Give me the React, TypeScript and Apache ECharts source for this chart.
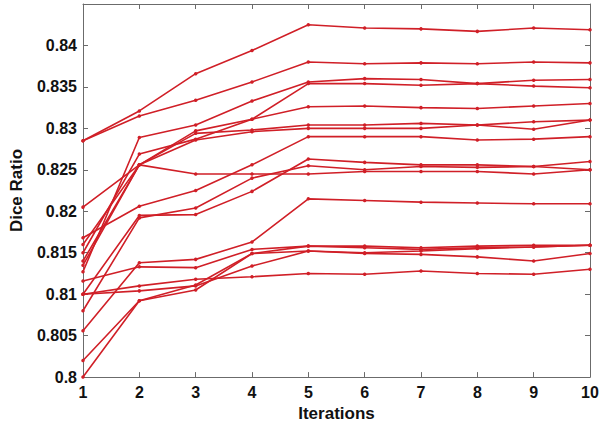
import React, { useEffect, useRef } from "react";
import * as echarts from "echarts";

const iterations = [1, 2, 3, 4, 5, 6, 7, 8, 9, 10];

const runA = [0.8285, 0.8321, 0.8366, 0.8394, 0.8425, 0.8421, 0.842, 0.8417, 0.8421, 0.8419];
const runB = [0.8285, 0.8315, 0.8334, 0.8356, 0.838, 0.8378, 0.8379, 0.8378, 0.838, 0.8379];
const runC = [0.8127, 0.8289, 0.8304, 0.8333, 0.8356, 0.836, 0.8359, 0.8354, 0.8358, 0.8359];
const runD = [0.815, 0.8269, 0.8287, 0.8311, 0.8354, 0.8354, 0.8352, 0.8354, 0.8351, 0.8349];
const runE = [0.814, 0.8256, 0.8297, 0.8311, 0.8326, 0.8327, 0.8325, 0.8324, 0.8327, 0.833];
const runF = [0.816, 0.8256, 0.8294, 0.8298, 0.8304, 0.8304, 0.8306, 0.8304, 0.8299, 0.831];
const runG = [0.8135, 0.8256, 0.8286, 0.8296, 0.83, 0.83, 0.83, 0.8304, 0.8308, 0.831];
const runH = [0.8168, 0.8206, 0.8225, 0.8256, 0.829, 0.829, 0.829, 0.8286, 0.8287, 0.829];
const runI = [0.8205, 0.8256, 0.8245, 0.8245, 0.8245, 0.8248, 0.8248, 0.8248, 0.8245, 0.825];
const runJ = [0.81, 0.8195, 0.8196, 0.8224, 0.8263, 0.8259, 0.8256, 0.8256, 0.8254, 0.826];
const runK = [0.808, 0.8192, 0.8204, 0.824, 0.8255, 0.825, 0.8254, 0.8253, 0.8254, 0.825];
const runL = [0.8056, 0.8138, 0.8142, 0.8163, 0.8215, 0.8213, 0.8211, 0.821, 0.8209, 0.8209];
const runM = [0.8116, 0.8133, 0.8132, 0.8154, 0.8158, 0.8158, 0.8156, 0.8158, 0.8159, 0.8159];
const runN = [0.81, 0.811, 0.8118, 0.8121, 0.8125, 0.8124, 0.8128, 0.8125, 0.8124, 0.813];
const runO = [0.81, 0.8104, 0.811, 0.8134, 0.8152, 0.8149, 0.8148, 0.8145, 0.814, 0.8149];
const runP = [0.802, 0.8092, 0.8105, 0.8149, 0.8158, 0.8156, 0.8154, 0.8156, 0.8157, 0.8159];
const runQ = [0.8, 0.8092, 0.8111, 0.8149, 0.8152, 0.815, 0.8152, 0.8155, 0.8157, 0.8159];

const runs = [runA, runB, runC, runD, runE, runF, runG, runH, runI, runJ, runK, runL, runM, runN, runO, runP, runQ];

const RED = "#d01f27";
const AXIS = "#6b6b6b";
const FONT = "Liberation Sans";

export default function App() {
  const ref = useRef<HTMLDivElement>(null);
  useEffect(() => {
    if (!ref.current) return;
    const chart = echarts.init(ref.current, undefined, { renderer: "svg" });
    const fmtY = (v: number) => (v > 0.8445 ? "" : String(parseFloat(v.toFixed(3))));
    const axisLine = { show: true, lineStyle: { color: AXIS, width: 1 } };
    const tick = { show: true, inside: true, length: 5, lineStyle: { color: AXIS } };
    chart.setOption({
      animation: false,
      backgroundColor: "#ffffff",
      grid: { left: 79, right: 12, top: 4, bottom: 48, containLabel: false },
      xAxis: [
        {
          type: "value",
          min: 1,
          max: 10,
          interval: 1,
          name: "Iterations",
          nameLocation: "middle",
          nameGap: 26,
          nameTextStyle: { fontFamily: FONT, fontSize: 17, fontWeight: "bold", color: "#111" },
          axisLine,
          axisTick: tick,
          splitLine: { show: false },
          axisLabel: { fontFamily: FONT, fontSize: 16, fontWeight: "bold", color: "#111", margin: 7 },
        },
        {
          type: "value",
          position: "top",
          min: 1,
          max: 10,
          interval: 1,
          axisLine,
          axisTick: tick,
          axisLabel: { show: false },
          splitLine: { show: false },
        },
      ],
      yAxis: [
        {
          type: "value",
          min: 0.8,
          max: 0.845,
          interval: 0.005,
          name: "Dice Ratio",
          nameLocation: "middle",
          nameGap: 58,
          nameTextStyle: { fontFamily: FONT, fontSize: 17, fontWeight: "bold", color: "#111" },
          axisLine,
          axisTick: tick,
          splitLine: { show: false },
          axisLabel: {
            fontFamily: FONT,
            fontSize: 16,
            fontWeight: "bold",
            color: "#111",
            margin: 6,
            formatter: fmtY,
          },
        },
        {
          type: "value",
          position: "right",
          min: 0.8,
          max: 0.845,
          interval: 0.005,
          axisLine,
          axisTick: tick,
          axisLabel: { show: false },
          splitLine: { show: false },
        },
      ],
      series: runs.map((r, i) => ({
        type: "line",
        name: "run" + (i + 1),
        data: r.map((v, j) => [iterations[j], v]),
        symbol: "circle",
        symbolSize: 3.5,
        lineStyle: { color: RED, width: 1.6 },
        itemStyle: { color: RED },
        z: 2,
      })),
    });
    return () => chart.dispose();
  }, []);
  return (
    <div
      ref={ref}
      style={{ position: "fixed", left: 0, top: 0, width: 602, height: 427, background: "#fff" }}
    />
  );
}
